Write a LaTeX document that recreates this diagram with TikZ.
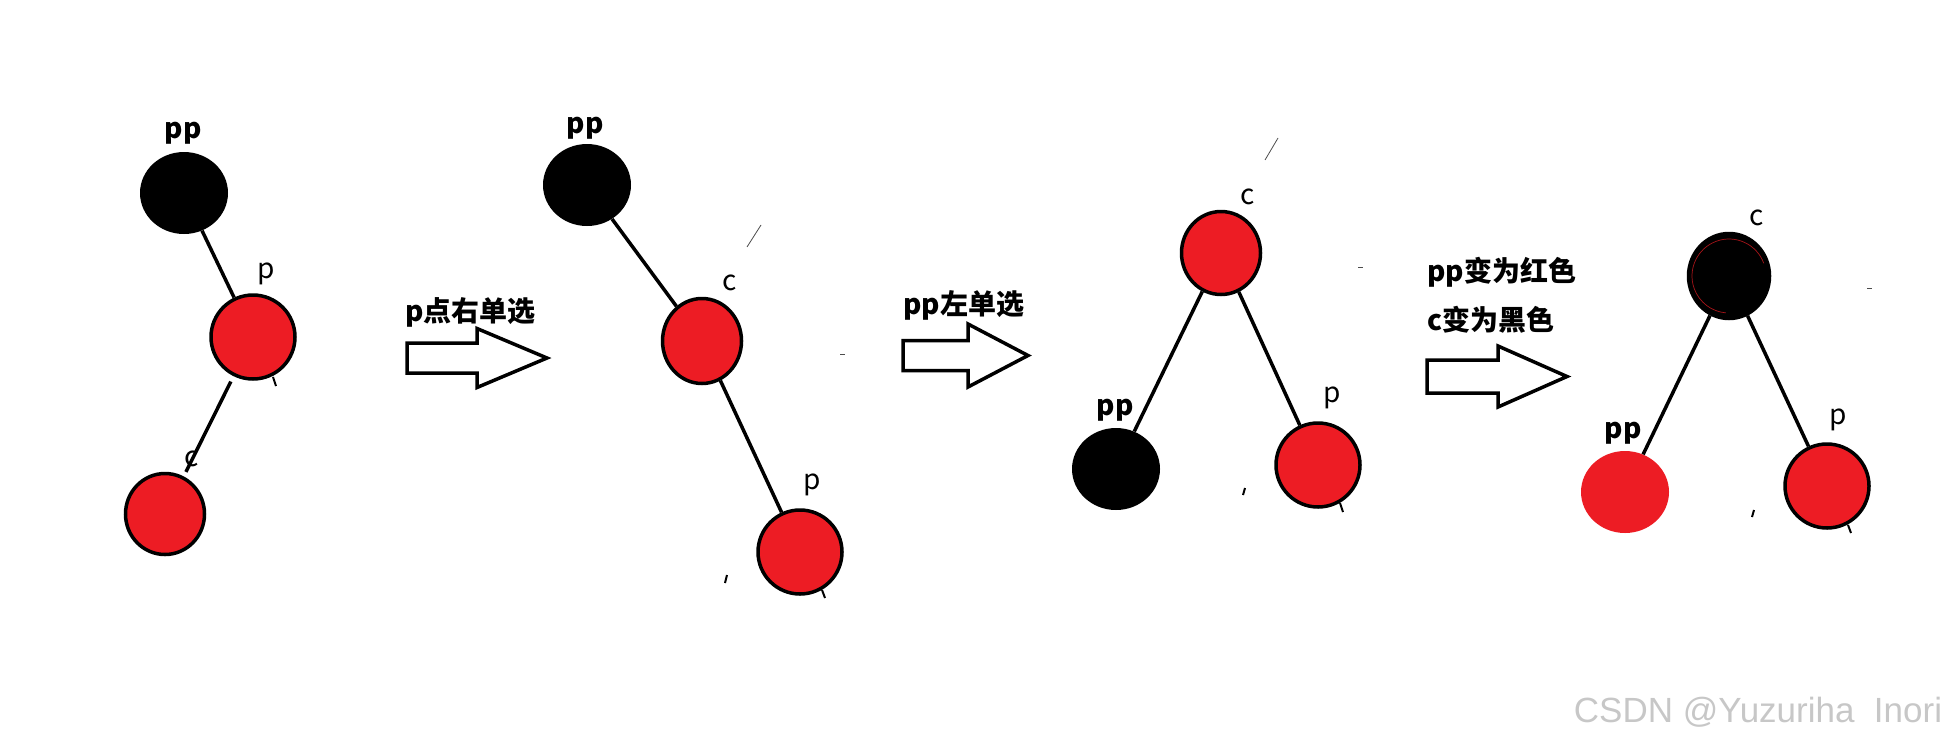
\documentclass[tikz,border=0pt]{standalone}
\usepackage{fontspec}
\setmainfont{Noto Sans CJK SC}
\newfontfamily\wmfont{Liberation Sans}
\usetikzlibrary{shapes.geometric}
\definecolor{nodered}{RGB}{237,28,36}
\tikzset{
  rbnode/.style={ellipse, draw=black, line width=3.5pt, fill=nodered, inner sep=0pt, minimum width=84pt, minimum height=84pt},
  rnode/.style={ellipse, fill=nodered, inner sep=0pt, minimum width=88pt, minimum height=82pt},
  bknode/.style={ellipse, fill=black, inner sep=0pt, minimum width=88pt, minimum height=82pt},
  link/.style={line width=3.5pt},
  tag/.style={inner sep=0pt, font=\fontsize{28}{34}\selectfont},
  boldtag/.style={inner sep=0pt, font=\fontsize{28}{34}\selectfont\bfseries},
}
\begin{document}
\begin{tikzpicture}[x=1pt, y=-1pt]
  \useasboundingbox (0,0) rectangle (1953,753);
  % tree 1
  \node[bknode] (pp1) at (184,193) {};
  \node[rbnode] (p1) at (253,337) {};
  \node[rbnode, minimum width=79pt, minimum height=81pt] (c1) at (165,514) {};
  \draw[link] (pp1) -- (p1);
  \draw[link, shorten <=6pt, shorten >=5pt] (p1) -- (c1);
  \node[boldtag] (pp1l) at (183,133) {pp};
  \node[tag] (p1l) at (266,274) {p};
  \node[tag] (c1l) at (192,459) {c};
  % tree 2
  \node[bknode] (pp2) at (587,185) {};
  \node[rbnode, minimum width=79pt, minimum height=85pt] (c2) at (702,341) {};
  \node[rbnode] (p2) at (800,552) {};
  \draw[link] (pp2) -- (c2);
  \draw[link] (c2) -- (p2);
  \node[boldtag] (pp2l) at (585,128) {pp};
  \node[tag] (c2l) at (730,283) {c};
  \node[tag] (p2l) at (812,485) {p};
  % tree 3
  \node[rbnode, minimum width=79pt, minimum height=83pt] (c3) at (1221,253) {};
  \node[bknode] (pp3) at (1116,469) {};
  \node[rbnode] (p3) at (1318,465) {};
  \draw[link] (c3) -- (pp3);
  \draw[link] (c3) -- (p3);
  \node[tag] (c3l) at (1248,197) {c};
  \node[boldtag] (pp3l) at (1115,410) {pp};
  \node[tag] (p3l) at (1332,398) {p};
  % tree 4
  \node[bknode, draw=black, line width=3.5pt, minimum width=81pt, minimum height=85pt] (c4) at (1729,276) {};
  \draw[nodered!70!black, line width=0.7pt] (c4.center) ++(20:37pt) arc (20:265:37pt);
  \node[rnode] (pp4) at (1625,492) {};
  \node[rbnode] (p4) at (1827,486) {};
  \draw[link] (c4) -- (pp4);
  \draw[link] (c4) -- (p4);
  \node[tag] (c4l) at (1757,218) {c};
  \node[boldtag] (pp4l) at (1623,433) {pp};
  \node[tag] (p4l) at (1838,420) {p};
  % block arrows
  \foreach \ax/\ay/\sl/\hl/\sw/\hw in {407/358/70/70/15/29.5, 903/355.5/65/60/15/31.5, 1427/376.5/71/69/16.5/30.5}
    \draw[line width=3.5pt, fill=white] (\ax,{\ay-\sw}) -- ({\ax+\sl},{\ay-\sw}) -- ({\ax+\sl},{\ay-\hw}) -- ({\ax+\sl+\hl},\ay) -- ({\ax+\sl},{\ay+\hw}) -- ({\ax+\sl},{\ay+\sw}) -- (\ax,{\ay+\sw}) -- cycle;
  \node[boldtag, anchor=west] (step1) at (405,312) {p点右单选};
  \node[boldtag, anchor=west] (step2) at (903,305) {pp左单选};
  \node[boldtag, anchor=west] (step3a) at (1427,272) {pp变为红色};
  \node[boldtag, anchor=west] (step3b) at (1427,320) {c变为黑色};
  % stray marks
  \foreach \xa/\ya/\xb/\yb in {273/377/276/386, 822/590/825/598, 1340/503/1343/512, 1848/525/1851/533, 727/575/725/583, 1245/488/1243/495, 1754/510/1752/517}
    \draw[line width=2pt] (\xa,\ya) -- (\xb,\yb);
  \foreach \xa/\ya/\xb/\yb in {761/225/747/247, 1278/138/1265/160, 840/354/845/354, 1358/267/1363/267, 1867/288/1872/288}
    \draw[line width=0.8pt, black!70] (\xa,\ya) -- (\xb,\yb);
  % watermark
  \node[inner sep=0pt, text=black!22, font=\wmfont\fontsize{35}{40}\selectfont] (mark) at (1758,712) {CSDN @Yuzuriha~~Inori};
\end{tikzpicture}
\end{document}
